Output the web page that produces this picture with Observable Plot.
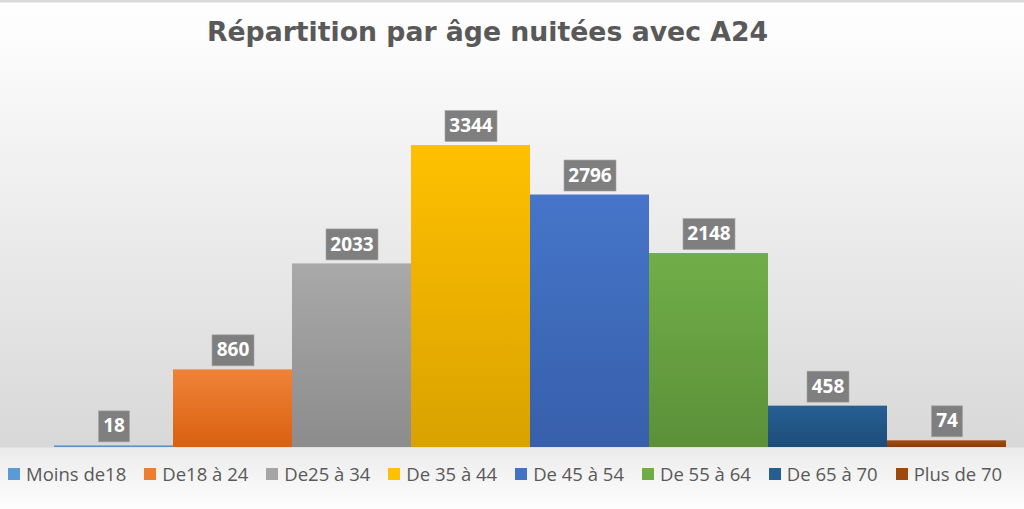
<!DOCTYPE html>
<html>
<head>
<meta charset="utf-8">
<script src="https://cdn.jsdelivr.net/npm/d3@7"></script>
<script src="https://cdn.jsdelivr.net/npm/@observablehq/plot@0.6"></script>
<style>
  html, body { margin: 0; padding: 0; }
  #chart {
    position: relative;
    width: 1024px;
    height: 509px;
    overflow: hidden;
    background: linear-gradient(to bottom,
      #d9d9d9 0px, #d9d9d9 2px, #ffffff 3px,
      #d8d8d8 447px, #ebebeb 448px, #fefefe 509px);
  }
  #title {
    box-sizing: border-box;
    height: 48px;
    padding-top: 16px;
    padding-right: 49px;
    text-align: center;
    font: bold 26.7px "DejaVu Sans", sans-serif;
    line-height: 32px;
    color: #595959;
    white-space: nowrap;
  }
  #legend {
    display: flex;
    align-items: center;
    height: 22px;
    padding-left: 8px;
    font: 18.5px "Open Sans", sans-serif;
    line-height: 22px;
    color: #595959;
    white-space: nowrap;
  }
  #legend .item { display: flex; align-items: center; margin-right: 18px; }
  #legend .sw { width: 12px; height: 12px; margin-right: 6px; }
</style>
</head>
<body>
<div id="chart">
  <div id="title">Répartition par âge nuitées avec A24</div>
  <div id="plot"></div>
  <div id="legend"></div>
</div>
<script>
// Age groups and number of nights
const categories = ["Moins de18", "De18 à 24", "De25 à 34", "De 35 à 44", "De 45 à 54", "De 55 à 64", "De 65 à 70", "Plus de 70"];
const values = [18, 860, 2033, 3344, 2796, 2148, 458, 74];

// Series colours: legend swatch, and top / bottom of each bar's gradient
const swatchColors = ["#5b9bd5", "#ed7d31", "#a5a5a5", "#ffc000", "#4472c4", "#70ad47", "#255e91", "#9e480e"];
const topColors    = ["#5d9fd8", "#f08339", "#a9a9a9", "#ffc000", "#4675c9", "#71ae48", "#266095", "#a54c10"];
const bottomColors = ["#4f8cc6", "#d9600f", "#8c8c8c", "#d9a200", "#375fab", "#5b9039", "#1e4c78", "#8a3d0b"];

const data = categories.map((c, i) => ({category: c, value: values[i], grad: `url(#bar-grad-${i})`}));

// Width of a value label's grey box, from the rendered text width
const labelFont = 19;
const measureCtx = document.createElement("canvas").getContext("2d");
measureCtx.font = `bold ${labelFont}px 'Open Sans'`;
const boxWidth = s => Math.round(measureCtx.measureText(s).width) + 9;
const boxHeight = 31;

const chart = Plot.plot({
  width: 1024,
  height: 415,
  marginTop: 37.8,
  marginBottom: 16,
  marginLeft: 53,
  marginRight: 18,
  style: {background: "transparent"},
  x: {domain: categories, padding: 0, axis: null},
  y: {domain: [0, 4000], axis: null},
  color: {type: "identity"},
  marks: [
    Plot.barY(data, {
      x: "category",
      y: "value",
      fill: "grad",
      inset: 0,
      style: {filter: "url(#bar-shadow)"}
    }),
    Plot.text(data, {
      x: "category",
      y: "value",
      text: d => String(d.value),
      dy: -19.5,
      lineAnchor: "middle",
      fill: "white",
      fontSize: labelFont,
      fontWeight: "bold",
      fontFamily: "'Open Sans', sans-serif",
      render(index, scales, vals, dims, ctx, next) {
        const g = next(index, scales, vals, dims, ctx);
        const ns = "http://www.w3.org/2000/svg";
        const boxes = document.createElementNS(ns, "g");
        for (const i of index) {
          const w = boxWidth(String(data[i].value));
          const r = document.createElementNS(ns, "rect");
          r.setAttribute("x", vals.x[i] - w / 2);
          r.setAttribute("y", vals.y[i] - boxHeight / 2);
          r.setAttribute("width", w);
          r.setAttribute("height", boxHeight);
          r.setAttribute("fill", "#7f7f7f");
          r.setAttribute("stroke", "#a6a6a6");
          r.setAttribute("stroke-width", 0.6);
          boxes.appendChild(r);
        }
        g.insertBefore(boxes, g.firstChild);
        return g;
      }
    })
  ]
});

// Gradients and soft shadow used by the bars
const ns = "http://www.w3.org/2000/svg";
const defs = document.createElementNS(ns, "defs");
categories.forEach((c, i) => {
  const lg = document.createElementNS(ns, "linearGradient");
  lg.setAttribute("id", `bar-grad-${i}`);
  lg.setAttribute("x1", "0"); lg.setAttribute("y1", "0");
  lg.setAttribute("x2", "0"); lg.setAttribute("y2", "1");
  [[0, topColors[i]], [1, bottomColors[i]]].forEach(([o, col]) => {
    const st = document.createElementNS(ns, "stop");
    st.setAttribute("offset", o);
    st.setAttribute("stop-color", col);
    lg.appendChild(st);
  });
  defs.appendChild(lg);
});
const filter = document.createElementNS(ns, "filter");
filter.setAttribute("id", "bar-shadow");
filter.setAttribute("x", "-20%"); filter.setAttribute("y", "-20%");
filter.setAttribute("width", "140%"); filter.setAttribute("height", "140%");
const ds = document.createElementNS(ns, "feDropShadow");
ds.setAttribute("dx", "3"); ds.setAttribute("dy", "2");
ds.setAttribute("stdDeviation", "3");
ds.setAttribute("flood-color", "#000");
ds.setAttribute("flood-opacity", "0.18");
filter.appendChild(ds);
defs.appendChild(filter);
chart.insertBefore(defs, chart.firstChild);

document.getElementById("plot").appendChild(chart);

// Legend
const legend = document.getElementById("legend");
categories.forEach((c, i) => {
  const item = document.createElement("div");
  item.className = "item";
  const sw = document.createElement("span");
  sw.className = "sw";
  sw.style.background = swatchColors[i];
  const lab = document.createElement("span");
  lab.textContent = c;
  item.appendChild(sw);
  item.appendChild(lab);
  legend.appendChild(item);
});
</script>
</body>
</html>
